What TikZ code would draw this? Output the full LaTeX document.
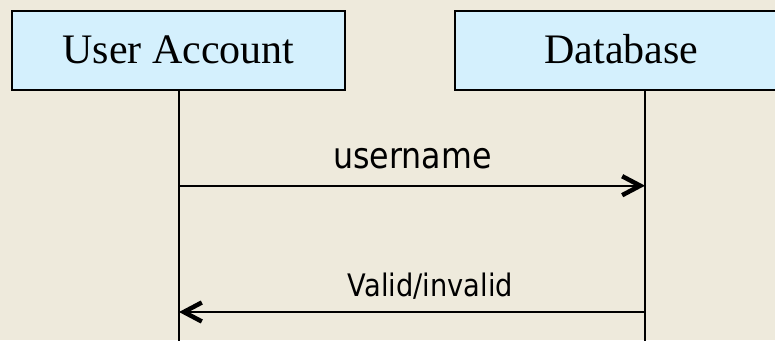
\documentclass[tikz,border=0pt]{standalone}
\usepackage{fontspec}
\setmainfont{Liberation Serif}
\newfontfamily\tah{DejaVu Sans}[FakeStretch=0.88]
\usetikzlibrary{arrows.meta}
\definecolor{bgc}{RGB}{238,234,220}
\definecolor{boxc}{RGB}{212,240,253}
\tikzset{
  actor/.style={draw=black, line width=2pt, fill=boxc, minimum height=79pt, inner sep=0pt},
  actortext/.style={inner sep=0pt, text height=30pt, text depth=5pt, font=\fontsize{42}{46}\selectfont},
  lifeline/.style={line width=1.8pt},
  msg/.style={line width=1.8pt, -{Straight Barb[length=18pt, width=19pt, line width=4.5pt]}},
  msglabel/.style={anchor=base, inner sep=0pt}
}
\begin{document}
\begin{tikzpicture}[x=1pt, y=-1pt]
  \fill[bgc] (0,0) rectangle (775,340);
  \useasboundingbox (0,0) rectangle (775,340);
  \clip (0,0) rectangle (775,340);
  \node[actor, minimum width=333pt] (ua) at (178.5,50.5) {};
  \node[actortext] (uat) at (ua.center) {User Account};
  \node[actor, minimum width=360pt] (db) at (635,50.5) {};
  \node[actortext] (dbt) at (621.5,50.5) {Database};
  \coordinate (l1top) at (179,90);
  \coordinate (l1bot) at (179,341);
  \coordinate (l2top) at (645,90);
  \coordinate (l2bot) at (645,341);
  \draw[lifeline] (l1top) -- (l1bot);
  \draw[lifeline] (l2top) -- (l2bot);
  \coordinate (m1a) at (179,185.7);
  \coordinate (m1b) at (645,185.7);
  \coordinate (m2a) at (645,312);
  \coordinate (m2b) at (179,312);
  \draw[msg] (m1a) -- (m1b);
  \draw[msg] (m2a) -- (m2b);
  \node[msglabel, font=\tah\fontsize{36}{40}\selectfont] (t1) at (412.5,168) {username};
  \node[msglabel, font=\tah\fontsize{31}{35}\selectfont] (t2) at (430.5,296) {Valid/invalid};
\end{tikzpicture}
\end{document}
